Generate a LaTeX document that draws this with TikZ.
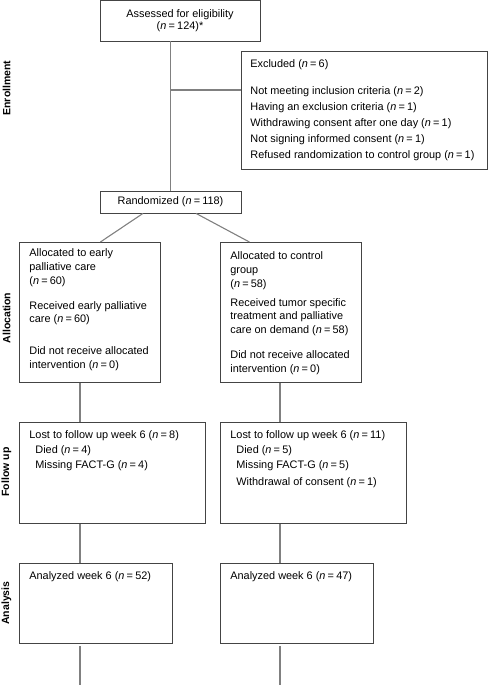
\documentclass[tikz,border=0pt]{standalone}
\usepackage{fontspec}
\setmainfont{Liberation Sans}
\usepackage{tikz}
\usetikzlibrary{positioning}
\definecolor{boxgray}{HTML}{444444}
\definecolor{linegray}{HTML}{808080}
% text block of a box: width, height, first baseline from the top
\newcommand{\boxtext}[4][16.5]{\begin{minipage}[t][#3pt][t]{#2pt}\raggedright\rule{0pt}{#1pt}#4\end{minipage}}
\newcommand{\nn}[1]{(\textit{n}\hspace{2.2pt}=\hspace{2.2pt}#1)}
\tikzset{
  box/.style={draw=boxgray, line width=0.8pt, inner xsep=10pt, inner ysep=0pt, anchor=north west},
  cbox/.style={draw=boxgray, line width=0.8pt, inner sep=0pt, align=center},
  conn/.style={draw=linegray, line width=1.1pt},
  side/.style={rotate=90, font=\bfseries\fontsize{10.5}{12}\selectfont}
}
\begin{document}
\begin{tikzpicture}[x=1pt, y=-1pt, font=\fontsize{10.9}{13.5}\selectfont]
      \useasboundingbox (0,0) rectangle (488,685);
      % stage labels
      \node[side] (enrol) at (6.5,88) {Enrollment};
      \node[side] (alloc) at (6.5,318) {Allocation};
      \node[side] (follow) at (6.5,472) {Follow up};
      \node[side] (anal) at (6.5,603) {Analysis};
      % enrollment
      \node[cbox, minimum width=160pt, minimum height=41pt, font=\fontsize{10.9}{12}\selectfont] (assess) at (180,20.5) {Assessed for eligibility\\\nn{124}*};
      \node[cbox, minimum width=141pt, minimum height=22pt] (rand) at (170.5,202) {Randomized \nn{118}};
      \node[box, inner xsep=9pt] (excl) at (241,51) {\boxtext{228}{118}{Excluded \nn{6}\\[13.5pt]
        Not meeting inclusion criteria \nn{2}\\[2.5pt]
        Having an exclusion criteria \nn{1}\\[2.5pt]
        Withdrawing consent after one day \nn{1}\\[2.5pt]
        Not signing informed consent \nn{1}\\[2.5pt]
        Refused randomization to control group \nn{1}}};
      \coordinate (split) at (170.5,90);
      \draw[conn] (rand.north) -- (rand.north |- assess.south);
      \draw[conn] (split) -- (split -| excl.west);
      % allocation
      \node[box] (early) at (19,242) {\boxtext[14.5]{121}{140}{Allocated to early\\[0.5pt]
        palliative care\\[0.5pt] \nn{60}\\[11pt]
        Received early palliative\\ care \nn{60}\\[18pt]
        Did not receive allocated\\[0.5pt] intervention \nn{0}}};
      \node[box] (control) at (220,242) {\boxtext[17.5]{121}{140}{Allocated to control\\ group\\[0.5pt] \nn{58}\\[5.5pt]
        Received tumor specific\\ treatment and palliative\\ care on demand \nn{58}\\[11.5pt]
        Did not receive allocated\\[0.5pt] intervention \nn{0}}};
      \draw[conn] ([xshift=-27.5pt]rand.south) -- ([xshift=10.5pt]early.north);
      \draw[conn] ([xshift=25.5pt]rand.south) -- ([xshift=-41.5pt]control.north);
      % follow up
      \node[box] (lost1) at (19,422) {\boxtext{166}{101}{Lost to follow up week 6 \nn{8}\\[1pt]
        \hspace*{6pt}Died \nn{4}\\[1.5pt]
        \hspace*{6pt}Missing FACT-G \nn{4}}};
      \node[box] (lost2) at (220,422) {\boxtext{166}{101}{Lost to follow up week 6 \nn{11}\\[1pt]
        \hspace*{6pt}Died \nn{5}\\[1.5pt]
        \hspace*{6pt}Missing FACT-G \nn{5}\\[3.5pt]
        \hspace*{6pt}Withdrawal of consent \nn{1}}};
      \draw[conn] ([xshift=61pt]early.south west) -- ([xshift=61pt]lost1.north west);
      \draw[conn] ([xshift=60pt]control.south west) -- ([xshift=60pt]lost2.north west);
      % analysis
      \node[box] (week1) at (19,563) {\boxtext{133}{80}{Analyzed week 6 \nn{52}}};
      \node[box] (week2) at (220,563) {\boxtext{133}{80}{Analyzed week 6 \nn{47}}};
      \draw[conn] ([xshift=61pt]lost1.south west) -- ([xshift=61pt]week1.north west);
      \draw[conn] ([xshift=60pt]lost2.south west) -- ([xshift=60pt]week2.north west);
      \coordinate (end1) at (80,685);
      \coordinate (end2) at (280,685);
      \draw[conn] ([xshift=61pt,yshift=-2pt]week1.south west) -- (end1);
      \draw[conn] ([xshift=60pt,yshift=-2pt]week2.south west) -- (end2);
\end{tikzpicture}
\end{document}
